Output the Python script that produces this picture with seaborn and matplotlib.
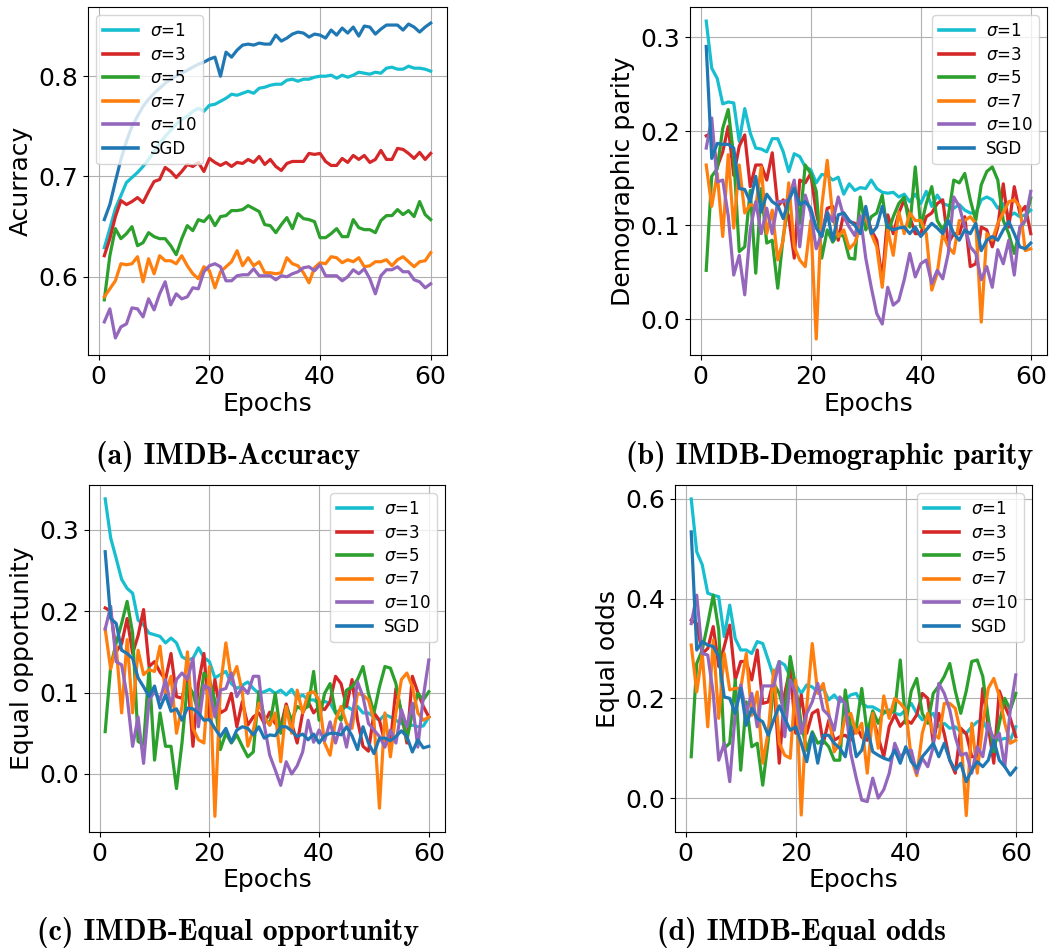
import numpy as np
import pandas as pd
import matplotlib
matplotlib.use("Agg")
import matplotlib.pyplot as plt
from matplotlib.lines import Line2D
import seaborn as sns

epochs = list(range(1, 61))
methods = [r"$\sigma$=1", r"$\sigma$=3", r"$\sigma$=5", r"$\sigma$=7", r"$\sigma$=10", "SGD"]
colors = ["#17becf", "#d62728", "#2ca02c", "#ff7f0e", "#9467bd", "#1f77b4"]

# ---------------- (a) IMDB-Accuracy ----------------
a_s1 = [0.629, 0.648, 0.668, 0.681, 0.694, 0.699, 0.704, 0.710, 0.717, 0.725,
        0.733, 0.740, 0.746, 0.752, 0.757, 0.760, 0.765, 0.768, 0.765, 0.771,
        0.772, 0.775, 0.778, 0.782, 0.781, 0.783, 0.785, 0.783, 0.788, 0.789,
        0.791, 0.792, 0.792, 0.796, 0.797, 0.795, 0.797, 0.797, 0.799, 0.800,
        0.800, 0.801, 0.798, 0.801, 0.799, 0.801, 0.804, 0.803, 0.802, 0.804,
        0.803, 0.808, 0.809, 0.807, 0.807, 0.810, 0.808, 0.808, 0.807, 0.805]
a_s3 = [0.621, 0.638, 0.660, 0.676, 0.672, 0.675, 0.679, 0.674, 0.685, 0.695,
        0.697, 0.709, 0.705, 0.699, 0.705, 0.712, 0.710, 0.714, 0.705, 0.718,
        0.714, 0.711, 0.714, 0.710, 0.714, 0.713, 0.717, 0.714, 0.720, 0.712,
        0.717, 0.710, 0.706, 0.713, 0.715, 0.715, 0.715, 0.723, 0.722, 0.723,
        0.715, 0.711, 0.711, 0.718, 0.714, 0.721, 0.717, 0.721, 0.714, 0.717,
        0.726, 0.717, 0.717, 0.728, 0.727, 0.723, 0.718, 0.724, 0.717, 0.723]
a_s5 = [0.577, 0.621, 0.648, 0.638, 0.643, 0.650, 0.631, 0.634, 0.644, 0.640,
        0.638, 0.638, 0.631, 0.622, 0.638, 0.651, 0.646, 0.657, 0.655, 0.661,
        0.651, 0.660, 0.661, 0.666, 0.666, 0.667, 0.671, 0.668, 0.665, 0.652,
        0.651, 0.644, 0.652, 0.659, 0.648, 0.663, 0.658, 0.657, 0.655, 0.639,
        0.639, 0.643, 0.648, 0.640, 0.640, 0.657, 0.649, 0.647, 0.647, 0.644,
        0.656, 0.661, 0.661, 0.667, 0.662, 0.666, 0.660, 0.675, 0.662, 0.657]
a_s7 = [0.580, 0.588, 0.596, 0.613, 0.612, 0.613, 0.620, 0.595, 0.618, 0.603,
        0.621, 0.616, 0.616, 0.613, 0.621, 0.611, 0.603, 0.598, 0.610, 0.606,
        0.589, 0.605, 0.610, 0.615, 0.626, 0.611, 0.619, 0.611, 0.615, 0.604,
        0.604, 0.603, 0.604, 0.619, 0.613, 0.611, 0.604, 0.594, 0.609, 0.614,
        0.613, 0.620, 0.619, 0.614, 0.617, 0.615, 0.619, 0.610, 0.611, 0.615,
        0.615, 0.617, 0.611, 0.617, 0.620, 0.615, 0.610, 0.615, 0.616, 0.624]
a_s10 = [0.555, 0.568, 0.539, 0.550, 0.553, 0.569, 0.568, 0.560, 0.578, 0.567,
         0.583, 0.595, 0.572, 0.583, 0.578, 0.580, 0.589, 0.588, 0.605, 0.611,
         0.613, 0.610, 0.596, 0.596, 0.601, 0.602, 0.602, 0.608, 0.601, 0.601,
         0.601, 0.597, 0.601, 0.600, 0.603, 0.605, 0.609, 0.610, 0.606, 0.612,
         0.601, 0.601, 0.601, 0.596, 0.600, 0.607, 0.603, 0.608, 0.598, 0.583,
         0.601, 0.607, 0.607, 0.610, 0.605, 0.605, 0.597, 0.595, 0.589, 0.593]
a_sgd = [0.657, 0.672, 0.695, 0.717, 0.735, 0.750, 0.760, 0.770, 0.777, 0.783,
         0.788, 0.793, 0.797, 0.800, 0.803, 0.806, 0.809, 0.812, 0.814, 0.817,
         0.819, 0.800, 0.824, 0.819, 0.826, 0.831, 0.832, 0.831, 0.833, 0.832,
         0.832, 0.841, 0.835, 0.838, 0.842, 0.844, 0.843, 0.839, 0.842, 0.841,
         0.838, 0.846, 0.841, 0.848, 0.843, 0.849, 0.840, 0.850, 0.849, 0.842,
         0.847, 0.851, 0.851, 0.851, 0.846, 0.852, 0.849, 0.844, 0.849, 0.853]

# ---------------- (b) IMDB-Demographic parity ----------------
b_s1 = [0.317, 0.267, 0.256, 0.229, 0.231, 0.230, 0.189, 0.224, 0.198, 0.182,
        0.181, 0.178, 0.192, 0.192, 0.178, 0.157, 0.176, 0.173, 0.162, 0.159,
        0.145, 0.154, 0.153, 0.148, 0.151, 0.133, 0.144, 0.137, 0.140, 0.139,
        0.148, 0.139, 0.135, 0.134, 0.135, 0.130, 0.133, 0.125, 0.133, 0.123,
        0.136, 0.120, 0.132, 0.123, 0.121, 0.118, 0.122, 0.116, 0.113, 0.113,
        0.127, 0.130, 0.127, 0.118, 0.123, 0.109, 0.113, 0.109, 0.111, 0.116]
b_s3 = [0.195, 0.198, 0.162, 0.178, 0.205, 0.153, 0.184, 0.196, 0.141, 0.164,
        0.164, 0.148, 0.177, 0.120, 0.127, 0.109, 0.065, 0.148, 0.145, 0.155,
        0.113, 0.088, 0.118, 0.120, 0.084, 0.113, 0.104, 0.102, 0.098, 0.113,
        0.095, 0.084, 0.042, 0.111, 0.091, 0.113, 0.127, 0.109, 0.091, 0.091,
        0.109, 0.113, 0.123, 0.127, 0.081, 0.091, 0.091, 0.109, 0.056, 0.059,
        0.098, 0.095, 0.077, 0.098, 0.144, 0.098, 0.141, 0.113, 0.120, 0.091]
b_s5 = [0.052, 0.152, 0.160, 0.203, 0.223, 0.173, 0.072, 0.077, 0.137, 0.049,
        0.139, 0.081, 0.084, 0.033, 0.088, 0.123, 0.146, 0.102, 0.164, 0.155,
        0.136, 0.065, 0.095, 0.082, 0.091, 0.088, 0.065, 0.064, 0.130, 0.095,
        0.109, 0.113, 0.132, 0.091, 0.109, 0.123, 0.130, 0.098, 0.162, 0.098,
        0.123, 0.141, 0.105, 0.095, 0.109, 0.148, 0.145, 0.155, 0.127, 0.105,
        0.143, 0.157, 0.162, 0.148, 0.105, 0.091, 0.070, 0.095, 0.105, 0.129]
b_s7 = [0.164, 0.120, 0.155, 0.088, 0.175, 0.097, 0.164, 0.113, 0.122, 0.120,
        0.162, 0.091, 0.116, 0.063, 0.084, 0.145, 0.077, 0.063, 0.056, 0.105,
        -0.021, 0.120, 0.169, 0.109, 0.088, 0.095, 0.075, 0.081, 0.098, 0.109,
        0.091, 0.077, 0.034, 0.095, 0.068, 0.114, 0.091, 0.113, 0.105, 0.105,
        0.091, 0.031, 0.049, 0.091, 0.077, 0.070, 0.105, 0.105, 0.109, 0.102,
        -0.003, 0.091, 0.084, 0.102, 0.113, 0.125, 0.127, 0.120, 0.073, 0.075]
b_s10 = [0.182, 0.214, 0.146, 0.148, 0.110, 0.047, 0.068, 0.026, 0.095, 0.125,
         0.091, 0.118, 0.091, 0.125, 0.125, 0.127, 0.148, 0.077, 0.132, 0.113,
         0.075, 0.091, 0.114, 0.104, 0.130, 0.109, 0.098, 0.089, 0.110, 0.065,
         0.034, 0.006, -0.005, 0.034, 0.015, 0.020, 0.042, 0.070, 0.045, 0.059,
         0.063, 0.038, 0.052, 0.043, 0.070, 0.130, 0.120, 0.098, 0.077, 0.070,
         0.042, 0.056, 0.034, 0.074, 0.059, 0.084, 0.047, 0.098, 0.105, 0.136]
b_sgd = [0.290, 0.171, 0.187, 0.186, 0.186, 0.182, 0.139, 0.138, 0.125, 0.152,
         0.114, 0.133, 0.125, 0.121, 0.107, 0.127, 0.139, 0.122, 0.125, 0.118,
         0.097, 0.088, 0.113, 0.084, 0.111, 0.113, 0.105, 0.100, 0.091, 0.120,
         0.091, 0.098, 0.120, 0.098, 0.095, 0.097, 0.098, 0.091, 0.098, 0.088,
         0.095, 0.102, 0.097, 0.091, 0.105, 0.091, 0.084, 0.095, 0.091, 0.102,
         0.073, 0.084, 0.088, 0.084, 0.095, 0.104, 0.091, 0.077, 0.075, 0.081]

# ---------------- (c) IMDB-Equal opportunity ----------------
c_s1 = [0.338, 0.290, 0.265, 0.239, 0.228, 0.222, 0.189, 0.183, 0.173, 0.171,
        0.169, 0.161, 0.167, 0.161, 0.144, 0.140, 0.142, 0.155, 0.143, 0.138,
        0.118, 0.122, 0.126, 0.111, 0.105, 0.109, 0.113, 0.105, 0.099, 0.101,
        0.104, 0.099, 0.103, 0.097, 0.104, 0.093, 0.097, 0.091, 0.091, 0.087,
        0.089, 0.087, 0.075, 0.079, 0.083, 0.079, 0.083, 0.075, 0.075, 0.070,
        0.066, 0.073, 0.070, 0.066, 0.062, 0.058, 0.060, 0.058, 0.059, 0.070]
c_s3 = [0.204, 0.200, 0.150, 0.160, 0.191, 0.148, 0.170, 0.202, 0.132, 0.138,
        0.125, 0.116, 0.148, 0.095, 0.093, 0.120, 0.034, 0.111, 0.148, 0.066,
        0.116, 0.075, 0.079, 0.099, 0.058, 0.089, 0.060, 0.070, 0.075, 0.062,
        0.076, 0.062, 0.058, 0.086, 0.062, 0.038, 0.075, 0.089, 0.075, 0.083,
        0.079, 0.089, 0.120, 0.111, 0.083, 0.116, 0.066, 0.034, 0.028, 0.075,
        0.066, 0.038, 0.038, 0.105, 0.075, 0.038, 0.120, 0.100, 0.083, 0.070]
c_s5 = [0.052, 0.132, 0.161, 0.185, 0.212, 0.173, 0.040, 0.036, 0.130, 0.017,
        0.075, 0.034, 0.034, -0.018, 0.038, 0.111, 0.099, 0.075, 0.124, 0.116,
        0.090, 0.030, 0.050, 0.038, 0.048, 0.034, 0.021, 0.027, 0.101, 0.070,
        0.060, 0.099, 0.050, 0.083, 0.066, 0.083, 0.079, 0.083, 0.126, 0.066,
        0.099, 0.111, 0.075, 0.066, 0.103, 0.107, 0.116, 0.132, 0.099, 0.075,
        0.107, 0.132, 0.130, 0.111, 0.075, 0.042, 0.075, 0.099, 0.091, 0.101]
c_s7 = [0.178, 0.129, 0.157, 0.075, 0.165, 0.075, 0.152, 0.122, 0.128, 0.126,
        0.157, 0.099, 0.120, 0.050, 0.083, 0.150, 0.056, 0.042, 0.038, 0.132,
        -0.052, 0.107, 0.161, 0.116, 0.132, 0.100, 0.034, 0.054, 0.087, 0.070,
        0.060, 0.075, 0.015, 0.083, 0.050, 0.103, 0.075, 0.099, 0.101, 0.091,
        0.038, 0.023, 0.066, 0.083, 0.062, 0.056, 0.099, 0.097, 0.091, 0.066,
        -0.042, 0.075, 0.021, 0.075, 0.116, 0.124, 0.107, 0.075, 0.066, 0.070]
c_s10 = [0.178, 0.206, 0.138, 0.134, 0.095, 0.034, 0.070, 0.013, 0.091, 0.101,
         0.091, 0.116, 0.083, 0.116, 0.124, 0.116, 0.142, 0.058, 0.109, 0.105,
         0.070, 0.103, 0.105, 0.124, 0.095, 0.107, 0.099, 0.120, 0.120, 0.060,
         0.023, 0.005, -0.014, 0.015, 0.000, 0.010, 0.027, 0.066, 0.039, 0.054,
         0.041, 0.064, 0.038, 0.062, 0.033, 0.070, 0.113, 0.095, 0.062, 0.054,
         0.046, 0.033, 0.054, 0.038, 0.079, 0.058, 0.087, 0.033, 0.095, 0.140]
c_sgd = [0.273, 0.191, 0.185, 0.152, 0.148, 0.142, 0.118, 0.107, 0.095, 0.108,
         0.081, 0.097, 0.077, 0.080, 0.066, 0.081, 0.080, 0.075, 0.066, 0.067,
         0.056, 0.046, 0.056, 0.039, 0.054, 0.058, 0.056, 0.048, 0.058, 0.044,
         0.048, 0.047, 0.058, 0.058, 0.053, 0.046, 0.049, 0.042, 0.049, 0.038,
         0.047, 0.050, 0.050, 0.048, 0.058, 0.047, 0.030, 0.058, 0.038, 0.025,
         0.044, 0.044, 0.041, 0.046, 0.053, 0.046, 0.027, 0.042, 0.032, 0.034]

# ---------------- (d) IMDB-Equal odds ----------------
d_s1 = [0.600, 0.494, 0.468, 0.411, 0.407, 0.404, 0.324, 0.387, 0.320, 0.297,
        0.297, 0.290, 0.314, 0.310, 0.277, 0.243, 0.274, 0.267, 0.243, 0.227,
        0.210, 0.227, 0.223, 0.213, 0.220, 0.197, 0.207, 0.193, 0.197, 0.207,
        0.210, 0.190, 0.183, 0.183, 0.177, 0.170, 0.177, 0.170, 0.167, 0.177,
        0.190, 0.170, 0.157, 0.163, 0.170, 0.143, 0.150, 0.140, 0.143, 0.133,
        0.130, 0.143, 0.153, 0.157, 0.133, 0.123, 0.116, 0.120, 0.116, 0.143]
d_s3 = [0.357, 0.350, 0.290, 0.300, 0.344, 0.264, 0.304, 0.347, 0.237, 0.274,
        0.274, 0.237, 0.297, 0.190, 0.193, 0.237, 0.070, 0.210, 0.260, 0.130,
        0.207, 0.130, 0.170, 0.177, 0.110, 0.156, 0.116, 0.123, 0.126, 0.116,
        0.145, 0.122, 0.116, 0.162, 0.122, 0.083, 0.144, 0.167, 0.144, 0.157,
        0.150, 0.167, 0.210, 0.200, 0.110, 0.170, 0.129, 0.076, 0.050, 0.140,
        0.129, 0.083, 0.083, 0.220, 0.144, 0.070, 0.215, 0.185, 0.160, 0.123]
d_s5 = [0.083, 0.270, 0.297, 0.350, 0.407, 0.337, 0.100, 0.110, 0.237, 0.056,
        0.193, 0.103, 0.110, 0.026, 0.116, 0.230, 0.210, 0.170, 0.284, 0.223,
        0.150, 0.096, 0.133, 0.110, 0.116, 0.103, 0.076, 0.076, 0.217, 0.143,
        0.140, 0.220, 0.130, 0.175, 0.150, 0.175, 0.170, 0.175, 0.277, 0.150,
        0.215, 0.240, 0.170, 0.150, 0.210, 0.225, 0.244, 0.270, 0.215, 0.170,
        0.215, 0.274, 0.277, 0.244, 0.160, 0.093, 0.150, 0.200, 0.177, 0.210]
d_s7 = [0.307, 0.213, 0.290, 0.143, 0.317, 0.160, 0.290, 0.217, 0.220, 0.220,
        0.290, 0.166, 0.213, 0.070, 0.133, 0.257, 0.110, 0.086, 0.080, 0.237,
        -0.034, 0.183, 0.310, 0.210, 0.230, 0.170, 0.093, 0.110, 0.163, 0.170,
        0.130, 0.150, 0.050, 0.170, 0.100, 0.205, 0.160, 0.200, 0.190, 0.177,
        0.080, 0.045, 0.130, 0.170, 0.130, 0.120, 0.190, 0.190, 0.180, 0.130,
        -0.035, 0.150, 0.050, 0.150, 0.220, 0.240, 0.205, 0.150, 0.110, 0.116]
d_s10 = [0.350, 0.407, 0.290, 0.287, 0.210, 0.076, 0.110, 0.033, 0.170, 0.227,
         0.170, 0.210, 0.143, 0.225, 0.225, 0.225, 0.274, 0.123, 0.237, 0.210,
         0.130, 0.170, 0.193, 0.230, 0.177, 0.166, 0.136, 0.203, 0.190, 0.090,
         0.040, -0.004, -0.007, 0.040, 0.000, 0.017, 0.050, 0.110, 0.083, 0.093,
         0.096, 0.050, 0.080, 0.063, 0.103, 0.230, 0.210, 0.177, 0.123, 0.086,
         0.090, 0.050, 0.103, 0.083, 0.150, 0.116, 0.130, 0.063, 0.177, 0.247]
d_sgd = [0.534, 0.297, 0.314, 0.307, 0.304, 0.284, 0.203, 0.200, 0.170, 0.220,
         0.146, 0.180, 0.160, 0.153, 0.126, 0.157, 0.185, 0.160, 0.136, 0.143,
         0.110, 0.073, 0.130, 0.070, 0.126, 0.126, 0.110, 0.100, 0.083, 0.143,
         0.083, 0.096, 0.140, 0.093, 0.086, 0.080, 0.076, 0.096, 0.070, 0.103,
         0.073, 0.060, 0.083, 0.096, 0.110, 0.083, 0.110, 0.076, 0.056, 0.070,
         0.033, 0.056, 0.073, 0.063, 0.076, 0.116, 0.076, 0.063, 0.046, 0.060]

panels = [
    dict(series=[a_s1, a_s3, a_s5, a_s7, a_s10, a_sgd], ylabel="Acurracy",
         caption="(a) IMDB-Accuracy", legend_loc="upper left", ylim=(0.522, 0.869),
         rect=[88, 7, 447, 355], cap_xy=(228, 457)),
    dict(series=[b_s1, b_s3, b_s5, b_s7, b_s10, b_sgd], ylabel="Demographic parity",
         caption="(b) IMDB-Demographic parity", legend_loc="upper right", ylim=(-0.038, 0.332),
         rect=[690, 7, 1047, 355], cap_xy=(830, 457)),
    dict(series=[c_s1, c_s3, c_s5, c_s7, c_s10, c_sgd], ylabel="Equal opportunity",
         caption="(c) IMDB-Equal opportunity", legend_loc="upper right", ylim=(-0.0713, 0.355),
         rect=[89, 485, 445, 832], cap_xy=(228, 932)),
    dict(series=[d_s1, d_s3, d_s5, d_s7, d_s10, d_sgd], ylabel="Equal odds",
         caption="(d) IMDB-Equal odds", legend_loc="upper right", ylim=(-0.068, 0.628),
         rect=[675, 485, 1032, 832], cap_xy=(801, 932)),
]

W, H = 1051, 951
fig = plt.figure(figsize=(W / 100, H / 100), dpi=100)

LW = 2.3
for p in panels:
    l, t, r, b = p["rect"]
    ax = fig.add_axes([l / W, 1 - b / H, (r - l) / W, (b - t) / H])
    rows = []
    for m, vals in zip(methods, p["series"]):
        assert len(vals) == 60
        for e, v in zip(epochs, vals):
            rows.append((e, v, m))
    df = pd.DataFrame(rows, columns=["Epochs", "value", "method"])
    sns.lineplot(data=df, x="Epochs", y="value", hue="method", hue_order=methods,
                 palette=colors, linewidth=LW, legend=False, ax=ax, estimator=None)
    ax.set_xlim(-1.95, 62.95)
    ax.set_ylim(*p["ylim"])
    ax.set_xticks([0, 20, 40, 60])
    ax.grid(True, color="#b0b0b0", linewidth=0.8)
    ax.set_axisbelow(True)
    ax.tick_params(labelsize=18)
    ax.set_xlabel("Epochs", fontsize=18, labelpad=2)
    ax.set_ylabel(p["ylabel"], fontsize=18)
    handles = [Line2D([], [], color=c, lw=LW + 0.3) for c in colors]
    ax.legend(handles, methods, loc=p["legend_loc"], fontsize=12, labelspacing=0.33,
              handlelength=2.1, handletextpad=0.7)
    cx, cy = p["cap_xy"]
    fig.text(cx / W, 1 - cy / H, p["caption"], ha="center", va="center",
             fontsize=21.5, family=["cmb10"])

fig.savefig("out.png", dpi=100)
